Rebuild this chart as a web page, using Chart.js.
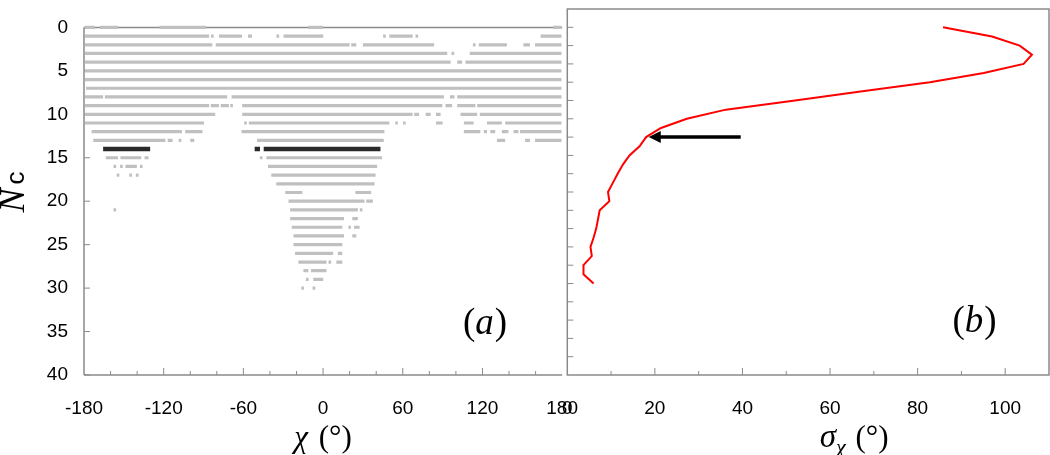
<!DOCTYPE html>
<html>
<head>
<meta charset="utf-8">
<script src="https://cdn.jsdelivr.net/npm/chart.js@4.4.0/dist/chart.umd.min.js"></script>
<style>
  body { margin: 0; background: #fff; width: 1050px; height: 455px; overflow: hidden; position: relative; }
  canvas { position: absolute; top: 0; }
  #left { left: 0; }
  #right { left: 540px; }
</style>
</head>
<body>
<canvas id="left" width="600" height="455"></canvas>
<canvas id="right" width="510" height="455"></canvas>
<script>
// (a) chi segments [from, to] in degrees, one list per Nc = 0..30
const chiRows = [
  [[-179.3, -171.8], [-168, -154.4], [-123.2, -88.3], [-11.1, 0.1], [173.2, 179.5]],
  [[-179.3, -85.8], [-84.4, -82.4], [-78.4, -61], [-56.5, -53.5], [-35.1, -33.1], [-29.8, 0.1], [45.2, 47.2], [49.9, 67.4], [69.6, 71.6], [163.8, 179.5]],
  [[-179.3, -83.4], [-80.8, 20], [21.2, 25], [30, 83.6], [112.8, 114.8], [117.2, 138.4], [150.8, 155.8], [159.6, 179.5]],
  [[-179.3, 93.5], [96.7, 98.7], [110.4, 179.5]],
  [[-179.3, 96], [101, 104.7], [107.2, 179.5]],
  [[-179.3, 179.5]],
  [[-179.3, 179.5]],
  [[-178.5, 179.5]],
  [[-179.3, -165.6], [-164.3, -72.2], [-68.9, 91], [95.5, 99], [101, 179.5]],
  [[-179.3, -85.8], [-84.6, -78.4], [-77.1, -70.9], [-69.9, -67.9], [-60.9, 89.8], [92.2, 97.2], [101, 114.7], [116, 179.5]],
  [[-179.3, -81.2], [-60.9, 67.4], [68.6, 72.3], [77.3, 81], [85, 88.5], [103.5, 116], [118, 179.5]],
  [[-179.3, -89.6], [-59.4, -57.4], [-55.9, 49.9], [54.3, 56.3], [60.2, 62.2], [85, 90], [106, 113.4], [123.4, 134.6], [137.1, 179.5]],
  [[-174.3, -106.3], [-103.8, -90.8], [-61.4, 46.2], [106, 118.4], [121, 123.4], [125.9, 129.6], [134.6, 139.6], [143.4, 147.1], [148.3, 179.5]],
  [[-173, -118.7], [-117, -113.3], [-108.7, -106.7], [-100, -97], [-49.7, 45.7], [130.9, 137.1], [152.1, 155.8], [159.6, 179.5]],
  [],
  [[-163.6, -154.4], [-152.6, -136.9], [-134.4, -131.4], [-47.6, -45.6], [-42.7, 44.4]],
  [[-157.8, -155.8], [-152.8, -150.8], [-148.8, -140.2], [-137.9, -135.9], [-41.5, 40.7]],
  [[-155.4, -153.4], [-145.9, -143.9], [-140.9, -138.9], [-39, 39.5]],
  [[-35.3, 38.7]],
  [[-28.5, -15.6], [24.3, 36.2]],
  [[-26, 31.2], [32.5, 37.5]],
  [[-157.8, -155.8], [-24.8, 26.2], [27.7, 29.7]],
  [[-24.8, 15.8], [22, 26.2]],
  [[-23.6, 14.5], [19, 21], [23.3, 27.5]],
  [[-22.3, 15.8], [22, 25]],
  [[-22.3, 14.5]],
  [[-21.1, 7.6], [11.1, 14.5]],
  [[-18.6, 2.6], [4.1, 6.1], [10, 14.5]],
  [[-14.8, -11.1], [-9.1, 2.6]],
  [[-12.9, -10.9], [-7.4, 0.1]],
  [[-16.4, -14.4], [-7.9, -5.9]]
];

// highlighted row (black)
const markedNc = 14;
const markedSegments = [[-165.6, -130.2], [-51.5, -47.5], [-44.7, 43.2]];

// (b) sigma_chi against Nc
const sigmaNc = [2, 3, 4, 5, 6, 7, 8, 9, 10, 11, 12, 13, 14, 15, 16, 17, 18, 19, 20, 21, 22, 23, 24, 25, 26, 27, 28, 29, 30];
const sigmaValues = [85.8, 97, 103.3, 106.1, 104.2, 95.1, 82.8, 67.4, 52, 36.2, 27.3, 21.4, 18, 16.5, 14.2, 12.7, 11.5, 10.4, 9.3, 9.6, 7.4, 7.0, 6.6, 6.0, 5.3, 5.6, 3.7, 3.7, 6.0];

// arrow in (b), data coords
const arrowStart = [39.6, 14];
const arrowEnd = [18.6, 14];

const chiTicks = [-180, -120, -60, 0, 60, 120, 180];
const sigmaTicks = [0, 20, 40, 60, 80, 100];
const ncTicks = [0, 5, 10, 15, 20, 25, 30, 35, 40];

const frameColor = '#8a8a8a';
const serif = '"Liberation Serif", "DejaVu Serif", serif';
const sans = '"Liberation Sans", Arial, sans-serif';

function segmentsToPoints(segs, nc, out) {
  segs.forEach(([a, b]) => {
    out.push({ x: a, y: nc }, { x: b, y: nc }, { x: b, y: null });
  });
  return out;
}

const grayPoints = [];
chiRows.forEach((segs, nc) => segmentsToPoints(segs, nc, grayPoints));
const blackPoints = segmentsToPoints(markedSegments, markedNc, []);

function line(ctx, x1, y1, x2, y2) {
  ctx.beginPath();
  ctx.moveTo(x1, y1);
  ctx.lineTo(x2, y2);
  ctx.stroke();
}

// draw mixed-font text centred on cx
function drawRich(ctx, parts, cx, y) {
  let w = 0;
  parts.forEach(p => { ctx.font = p.font; w += ctx.measureText(p.text).width + (p.gap || 0); });
  let x = cx - w / 2;
  ctx.textAlign = 'left';
  ctx.textBaseline = 'alphabetic';
  ctx.fillStyle = '#000';
  parts.forEach(p => {
    ctx.font = p.font;
    ctx.fillText(p.text, x, y + (p.dy || 0));
    x += ctx.measureText(p.text).width + (p.gap || 0);
  });
}

const leftDecor = {
  id: 'leftDecor',
  beforeDatasetsDraw(chart) {
    const { ctx, chartArea: a, scales: { x, y } } = chart;
    ctx.save();
    ctx.strokeStyle = frameColor;
    ctx.lineWidth = 1.5;
    line(ctx, a.left, a.top, a.left, a.bottom);
    line(ctx, a.left, a.top, a.right, a.top);
    line(ctx, a.left, a.bottom, a.right, a.bottom);
    ctx.lineWidth = 1;
    ncTicks.forEach(v => {
      const py = y.getPixelForValue(v);
      line(ctx, a.left, py, a.left + 6, py);
    });
    for (let v = -160; v < 180; v += 20) {
      const px = x.getPixelForValue(v);
      line(ctx, px, a.bottom, px, a.bottom - (v % 60 === 0 ? 7 : 4));
    }
    ctx.restore();
  },
  afterDraw(chart) {
    const { ctx, scales: { x, y } } = chart;
    ctx.save();
    drawRich(ctx, [
      { text: '\u03c7', font: 'italic 31px ' + serif, gap: 3 },
      { text: ' (\u00b0)', font: '31px ' + serif }
    ], x.getPixelForValue(0), 447);
    drawRich(ctx, [
      { text: '(', font: '37px ' + serif },
      { text: 'a', font: 'italic 37px ' + serif, gap: 1 },
      { text: ')', font: '37px ' + serif }
    ], x.getPixelForValue(122), y.getPixelForValue(35.3));
    // Nc, rotated
    ctx.translate(24, 192);
    ctx.rotate(-Math.PI / 2);
    drawRich(ctx, [
      { text: 'N', font: 'italic 36px ' + serif, gap: 4 },
      { text: 'c', font: '26px ' + sans }
    ], 0, 0);
    ctx.restore();
  }
};

const rightDecor = {
  id: 'rightDecor',
  beforeDatasetsDraw(chart) {
    const { ctx, chartArea: a, scales: { x, y } } = chart;
    ctx.save();
    ctx.strokeStyle = frameColor;
    ctx.lineWidth = 1.5;
    ctx.strokeRect(a.left, a.top, a.right - a.left, a.bottom - a.top);
    ctx.lineWidth = 1;
    for (let v = 2; v < 40; v += 2) {
      const py = y.getPixelForValue(v);
      line(ctx, a.left, py, a.left + 6, py);
    }
    for (let v = 10; v < 110; v += 10) {
      const px = x.getPixelForValue(v);
      line(ctx, px, a.bottom, px, a.bottom - (v % 20 === 0 ? 7 : 4));
    }
    ctx.restore();
  },
  afterDraw(chart) {
    const { ctx, scales: { x, y } } = chart;
    ctx.save();
    // arrow
    const x1 = x.getPixelForValue(arrowStart[0]), y1 = y.getPixelForValue(arrowStart[1]);
    const x2 = x.getPixelForValue(arrowEnd[0]), y2 = y.getPixelForValue(arrowEnd[1]);
    ctx.strokeStyle = '#000';
    ctx.fillStyle = '#000';
    ctx.lineWidth = 3.5;
    line(ctx, x1, y1, x2 + 10, y2);
    ctx.beginPath();
    ctx.moveTo(x2, y2);
    ctx.lineTo(x2 + 12, y2 - 6);
    ctx.lineTo(x2 + 12, y2 + 6);
    ctx.closePath();
    ctx.fill();
    drawRich(ctx, [
      { text: '\u03c3', font: 'italic 33px ' + serif },
      { text: '\u03c7', font: 'italic 22px ' + serif, dy: 7, gap: 2 },
      { text: ' (\u00b0)', font: '31px ' + serif }
    ], x.getPixelForValue(65.5), 447);
    drawRich(ctx, [
      { text: '(', font: '37px ' + serif },
      { text: 'b', font: 'italic 37px ' + serif, gap: 1 },
      { text: ')', font: '37px ' + serif }
    ], x.getPixelForValue(93), y.getPixelForValue(35.3));
    ctx.restore();
  }
};

Chart.defaults.font.family = sans;
Chart.defaults.color = '#000';

new Chart(document.getElementById('left'), {
  type: 'scatter',
  data: {
    datasets: [
      { data: grayPoints, showLine: true, borderColor: '#c0c0c0', borderWidth: 3.2, pointRadius: 0, spanGaps: false, clip: false },
      { data: blackPoints, showLine: true, borderColor: '#2a2a2a', borderWidth: 4.5, pointRadius: 0, spanGaps: false, clip: false }
    ]
  },
  options: {
    responsive: false,
    animation: false,
    layout: { padding: { left: 0, right: 34, top: 9, bottom: 0 } },
    plugins: { legend: { display: false }, tooltip: { enabled: false } },
    scales: {
      x: {
        type: 'linear', min: -180, max: 180,
        grid: { display: false, drawTicks: false }, border: { display: false },
        afterBuildTicks: s => { s.ticks = chiTicks.map(v => ({ value: v })); },
        afterFit: s => { s.height = 80; },
        ticks: { font: { size: 19 }, padding: 22, maxRotation: 0, autoSkip: false }
      },
      y: {
        type: 'linear', min: 0, max: 40, reverse: true,
        grid: { display: false, drawTicks: false }, border: { display: false },
        afterBuildTicks: s => { s.ticks = ncTicks.map(v => ({ value: v })); },
        afterFit: s => { s.width = 84; },
        ticks: { font: { size: 19 }, padding: 16, autoSkip: false }
      }
    }
  },
  plugins: [leftDecor]
});

new Chart(document.getElementById('right'), {
  type: 'scatter',
  data: {
    datasets: [{
      data: sigmaNc.map((n, i) => ({ x: sigmaValues[i], y: n })),
      showLine: true, borderColor: '#ff0000', borderWidth: 2, pointRadius: 0
    }]
  },
  options: {
    responsive: false,
    animation: false,
    layout: { padding: { left: 26, right: 1, top: 9, bottom: 0 } },
    plugins: { legend: { display: false }, tooltip: { enabled: false } },
    scales: {
      x: {
        type: 'linear', min: 0, max: 110,
        grid: { display: false, drawTicks: false }, border: { display: false },
        afterBuildTicks: s => { s.ticks = sigmaTicks.map(v => ({ value: v })); },
        afterFit: s => { s.height = 80; },
        ticks: { font: { size: 19 }, padding: 22, maxRotation: 0, autoSkip: false }
      },
      y: { type: 'linear', min: 0, max: 40, reverse: true, display: false }
    }
  },
  plugins: [rightDecor]
});
</script>
</body>
</html>
